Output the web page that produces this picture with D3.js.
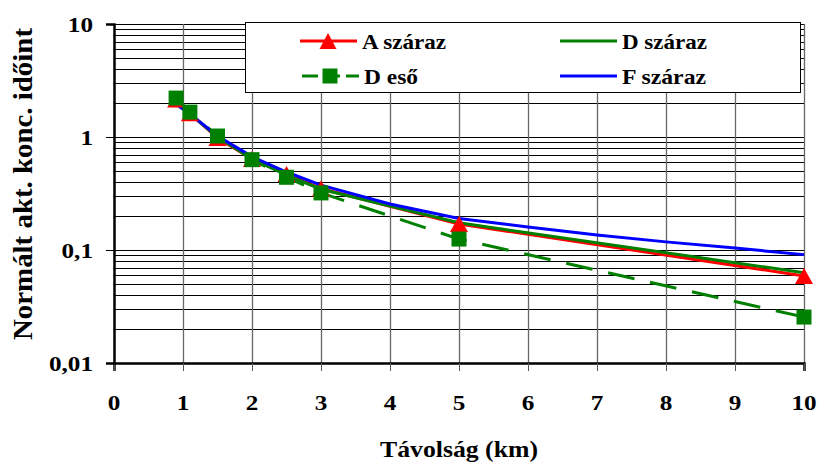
<!DOCTYPE html>
<html><head><meta charset="utf-8">
<script src="https://cdn.jsdelivr.net/npm/d3@7"></script>
<style>body{margin:0;background:#fff}svg{display:block}text{font-family:"Liberation Serif","Times New Roman",serif;font-weight:bold;fill:#000}</style>
</head><body>
<script>
const xTicks = [0,1,2,3,4,5,6,7,8,9,10];
const yTicks = [0.01,0.1,1,10];
const yTickLabels = ["0,01","0,1","1","10"];
const xs = [0.9,1.1,1.5,2,2.5,3,5,10];
const aSzaraz = [2.15,1.62,0.98,0.64,0.47,0.35,0.17,0.059];
const dSzaraz = [2.1,1.6,1.0,0.64,0.46,0.345,0.174,0.063];
const dEso = [2.21,1.66,1.02,0.63,0.44,0.32,0.125,0.0255];
const fXs = [0.9,1.1,1.5,2,2.5,3,4,5,6,7,8,9,10];
const fSzaraz = [1.95,1.6,1.02,0.67,0.49,0.375,0.255,0.19,0.16,0.136,0.118,0.104,0.091];
const legendNames = ["A száraz","D száraz","D eső","F száraz"];
const xTitle = "Távolság (km)";
const yTitle = "Normált akt. konc. időint";

const W=818,H=462;
const svg=d3.select("body").append("svg").attr("width",W).attr("height",H);
const x=d3.scaleLinear().domain([0,10]).range([114,804]);
const y=d3.scaleLog().domain([0.01,10]).range([363,24]);

// horizontal gridlines (minor + major)
const hLines=[];
for(let e=-2;e<1;e++){for(let m=1;m<=9;m++){hLines.push(m*Math.pow(10,e));}}
hLines.push(10);
svg.append("g").selectAll("line").data(hLines).join("line")
 .attr("x1",x(0)).attr("x2",x(10)).attr("y1",d=>Math.round(y(d))+0.5).attr("y2",d=>Math.round(y(d))+0.5)
 .attr("stroke","#000").attr("stroke-width",1);
// vertical gridlines
svg.append("g").selectAll("line").data(xTicks.slice(1)).join("line")
 .attr("x1",d=>Math.round(x(d))+0.5).attr("x2",d=>Math.round(x(d))+0.5).attr("y1",y(10)).attr("y2",y(0.01))
 .attr("stroke","#666").attr("stroke-width",1.3);

// axes
const xAxis=d3.axisBottom(x).tickValues(xTicks).tickSize(8).tickFormat("");
const gx=svg.append("g").attr("transform",`translate(0,${y(0.01)})`).call(xAxis);
gx.select(".domain").attr("stroke","#000").attr("stroke-width",2.5);
gx.selectAll(".tick line").attr("stroke","#555");
const yAxis=d3.axisLeft(y).tickValues(yTicks).tickSize(8).tickFormat("");
const gy=svg.append("g").attr("transform",`translate(${x(0)},0)`).call(yAxis);
gy.select(".domain").attr("stroke","#000").attr("stroke-width",2.5);
gy.selectAll(".tick line").attr("stroke","#000");

// tick labels (stretched)
svg.append("g").selectAll("text").data(xTicks).join("text")
 .attr("transform",d=>`translate(${x(d)},410) scale(1.2,1)`).attr("text-anchor","middle")
 .style("font-size","21px").text(d=>d);
svg.append("g").selectAll("text").data(yTicks).join("text")
 .attr("transform",d=>`translate(93,${y(d)+7.5}) scale(1.2,1)`).attr("text-anchor","end")
 .style("font-size","21px").text((d,i)=>yTickLabels[i]);

// titles
svg.append("text").attr("x",459).attr("y",457).attr("text-anchor","middle")
 .style("font-size","24px").attr("textLength",158).attr("lengthAdjust","spacingAndGlyphs").text(xTitle);
svg.append("text").attr("transform","translate(32,184) rotate(-90)").attr("text-anchor","middle")
 .style("font-size","28px").attr("textLength",312).attr("lengthAdjust","spacingAndGlyphs").text(yTitle);

// lines
const line=d3.line().x(d=>x(d[0])).y(d=>y(d[1]));
const zip=(a,b)=>a.map((v,i)=>[v,b[i]]);
const plot=svg.append("g");
plot.append("path").attr("d",line(zip(xs,aSzaraz))).attr("fill","none").attr("stroke","#ff0000").attr("stroke-width",3);
plot.append("path").attr("d",line(zip(xs,dSzaraz))).attr("fill","none").attr("stroke","#008000").attr("stroke-width",3);
plot.append("path").attr("d",line(zip(xs,dEso))).attr("fill","none").attr("stroke","#008000").attr("stroke-width",3).attr("stroke-dasharray","27,16");
plot.append("path").attr("d",line(zip(fXs,fSzaraz))).attr("fill","none").attr("stroke","#0000ff").attr("stroke-width",3);
const tri=(cx,cy,w,h)=>`M${cx},${cy-h/2}L${cx+w/2},${cy+h/2}L${cx-w/2},${cy+h/2}Z`;
plot.append("g").selectAll("path").data(zip(xs,aSzaraz)).join("path")
 .attr("d",d=>tri(x(d[0]),y(d[1]),18,16)).attr("fill","#ff0000");
plot.append("g").selectAll("rect").data(zip(xs,dEso)).join("rect")
 .attr("x",d=>x(d[0])-7.5).attr("y",d=>y(d[1])-7.5).attr("width",15).attr("height",15).attr("fill","#008000");

// legend
const lg=svg.append("g");
lg.append("rect").attr("x",245.5).attr("y",22.5).attr("width",555).attr("height",70).attr("fill","#fff").attr("stroke","#000").attr("stroke-width",1);
const items=[
 {name:legendNames[0],lx:300,ty:49,ly:41,color:"#ff0000",dash:null,marker:"tri",tl:84},
 {name:legendNames[1],lx:560,ty:49,ly:41,color:"#008000",dash:null,marker:null,tl:85},
 {name:legendNames[2],lx:302,ty:84,ly:76,color:"#008000",dash:"16,6",marker:"sq",tl:54},
 {name:legendNames[3],lx:560,ty:84,ly:76,color:"#0000ff",dash:null,marker:null,tl:84}];
items.forEach(it=>{
 const l=lg.append("line").attr("x1",it.lx).attr("x2",it.lx+57).attr("y1",it.ly).attr("y2",it.ly).attr("stroke",it.color).attr("stroke-width",3);
 if(it.dash) l.attr("stroke-dasharray",it.dash);
 const cx=it.lx+28;
 if(it.marker==="tri") lg.append("path").attr("d",tri(cx,it.ly,17,16)).attr("fill",it.color);
 if(it.marker==="sq") lg.append("rect").attr("x",cx-7.5).attr("y",it.ly-7.5).attr("width",15).attr("height",15).attr("fill",it.color);
 lg.append("text").attr("x",it.lx+62).attr("y",it.ty).style("font-size","22px")
  .attr("textLength",it.tl).attr("lengthAdjust","spacingAndGlyphs").text(it.name);
});
</script>
</body></html>
